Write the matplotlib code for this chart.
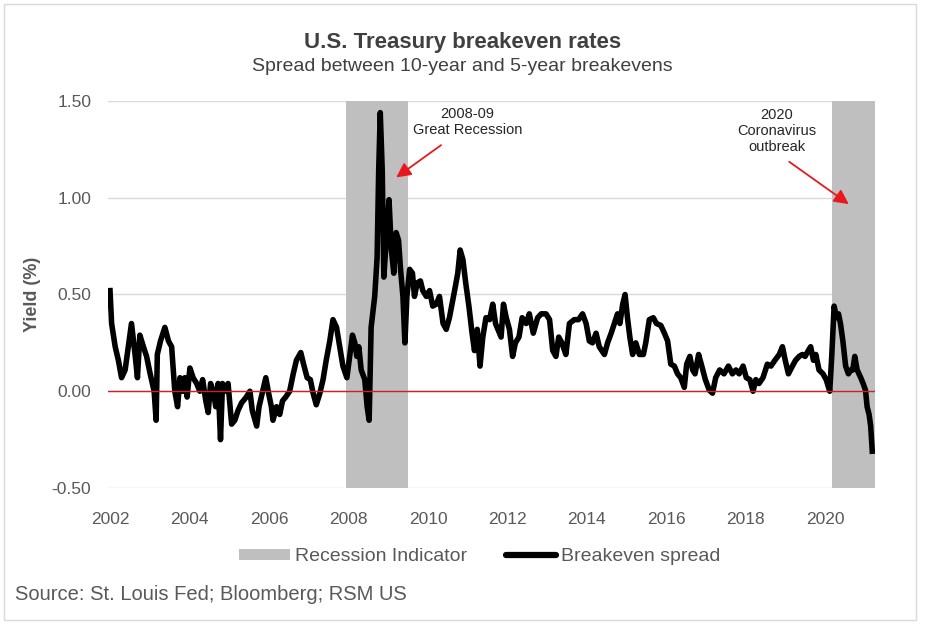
import matplotlib
matplotlib.use('Agg')
import matplotlib.pyplot as plt
from matplotlib.patches import Rectangle, Patch
from matplotlib.lines import Line2D

# Breakeven spread (10y minus 5y), decimal years
dates = [
    2002.00, 2002.04, 2002.13, 2002.21, 2002.29, 2002.38, 2002.46, 2002.54, 2002.63, 2002.69,
    2002.75, 2002.84, 2002.92, 2003.01, 2003.11, 2003.16, 2003.19, 2003.27, 2003.38, 2003.47,
    2003.55, 2003.63, 2003.70, 2003.76, 2003.83, 2003.88, 2003.94, 2004.01, 2004.09, 2004.18,
    2004.26, 2004.33, 2004.41, 2004.47, 2004.53, 2004.60, 2004.66, 2004.72, 2004.78, 2004.83,
    2004.89, 2004.97, 2005.06, 2005.14, 2005.22, 2005.31, 2005.43, 2005.52, 2005.58, 2005.69,
    2005.75, 2005.84, 2005.92, 2005.99, 2006.06, 2006.10, 2006.19, 2006.27, 2006.34, 2006.42,
    2006.52, 2006.61, 2006.69, 2006.80, 2006.87, 2006.96, 2007.04, 2007.11, 2007.19, 2007.28,
    2007.36, 2007.44, 2007.53, 2007.61, 2007.70, 2007.78, 2007.86, 2007.96, 2008.03, 2008.10,
    2008.16, 2008.21, 2008.26, 2008.32, 2008.41, 2008.47, 2008.52, 2008.57, 2008.66, 2008.72,
    2008.76, 2008.80, 2008.85, 2008.89, 2008.95, 2009.02, 2009.08, 2009.14, 2009.20, 2009.26,
    2009.31, 2009.37, 2009.42, 2009.47, 2009.54, 2009.61, 2009.66, 2009.73, 2009.81, 2009.87,
    2009.96, 2010.04, 2010.12, 2010.21, 2010.29, 2010.38, 2010.46, 2010.54, 2010.67, 2010.75,
    2010.81, 2010.88, 2010.95, 2011.03, 2011.11, 2011.17, 2011.24, 2011.31, 2011.38, 2011.46,
    2011.55, 2011.63, 2011.70, 2011.76, 2011.84, 2011.90, 2011.97, 2012.05, 2012.13, 2012.20,
    2012.29, 2012.37, 2012.47, 2012.55, 2012.65, 2012.76, 2012.85, 2012.97, 2013.06, 2013.14,
    2013.22, 2013.29, 2013.37, 2013.47, 2013.56, 2013.68, 2013.79, 2013.89, 2013.98, 2014.06,
    2014.14, 2014.23, 2014.31, 2014.44, 2014.52, 2014.61, 2014.69, 2014.77, 2014.83, 2014.90,
    2014.96, 2015.02, 2015.08, 2015.15, 2015.23, 2015.32, 2015.42, 2015.48, 2015.57, 2015.67,
    2015.75, 2015.86, 2015.95, 2016.03, 2016.11, 2016.20, 2016.28, 2016.36, 2016.45, 2016.51,
    2016.59, 2016.66, 2016.72, 2016.81, 2016.89, 2016.98, 2017.08, 2017.16, 2017.24, 2017.34,
    2017.45, 2017.56, 2017.66, 2017.75, 2017.83, 2017.93, 2018.01, 2018.10, 2018.18, 2018.25,
    2018.33, 2018.43, 2018.54, 2018.63, 2018.73, 2018.84, 2018.92, 2018.99, 2019.07, 2019.17,
    2019.25, 2019.34, 2019.42, 2019.49, 2019.57, 2019.63, 2019.70, 2019.76, 2019.84, 2019.94,
    2020.02, 2020.11, 2020.16, 2020.22, 2020.28, 2020.33, 2020.38, 2020.44, 2020.51, 2020.58,
    2020.64, 2020.69, 2020.74, 2020.80, 2020.89, 2020.95, 2021.01, 2021.05, 2021.10, 2021.14,
    2021.18,
]
spread = [
    0.52, 0.35, 0.23, 0.16, 0.07, 0.11, 0.23, 0.35, 0.19, 0.07,
    0.29, 0.23, 0.18, 0.09, 0.00, -0.15, 0.19, 0.26, 0.33, 0.26,
    0.23, 0.00, -0.08, 0.07, 0.00, 0.07, -0.03, 0.12, 0.07, 0.04,
    0.00, 0.06, -0.05, -0.11, 0.04, 0.00, -0.08, 0.04, -0.25, 0.04,
    0.00, 0.04, -0.17, -0.15, -0.10, -0.06, -0.03, 0.00, -0.10, -0.18,
    -0.08, 0.00, 0.07, -0.01, -0.08, -0.15, -0.08, -0.12, -0.05, -0.03,
    0.00, 0.09, 0.16, 0.20, 0.14, 0.07, 0.06, -0.01, -0.07, -0.01,
    0.06, 0.16, 0.26, 0.37, 0.33, 0.23, 0.13, 0.07, 0.18, 0.29,
    0.25, 0.18, 0.23, 0.11, 0.06, -0.08, -0.15, 0.33, 0.49, 0.69,
    1.14, 1.44, 1.14, 0.59, 0.78, 0.99, 0.73, 0.61, 0.82, 0.78,
    0.63, 0.49, 0.25, 0.49, 0.63, 0.61, 0.49, 0.56, 0.57, 0.52,
    0.49, 0.52, 0.44, 0.45, 0.49, 0.35, 0.32, 0.38, 0.52, 0.61,
    0.73, 0.68, 0.56, 0.44, 0.30, 0.21, 0.32, 0.13, 0.28, 0.38,
    0.37, 0.45, 0.35, 0.32, 0.28, 0.45, 0.38, 0.32, 0.18, 0.25,
    0.28, 0.38, 0.35, 0.40, 0.30, 0.38, 0.40, 0.40, 0.37, 0.21,
    0.18, 0.28, 0.25, 0.19, 0.35, 0.37, 0.37, 0.40, 0.35, 0.26,
    0.25, 0.30, 0.23, 0.19, 0.25, 0.30, 0.35, 0.40, 0.35, 0.45,
    0.50, 0.38, 0.28, 0.19, 0.25, 0.19, 0.19, 0.25, 0.37, 0.38,
    0.35, 0.34, 0.30, 0.26, 0.14, 0.13, 0.09, 0.07, 0.02, 0.14,
    0.18, 0.11, 0.09, 0.19, 0.13, 0.06, 0.005, -0.01, 0.07, 0.11,
    0.09, 0.13, 0.09, 0.11, 0.09, 0.13, 0.07, 0.06, 0.00, 0.06,
    0.04, 0.07, 0.14, 0.13, 0.16, 0.19, 0.23, 0.16, 0.09, 0.13,
    0.16, 0.18, 0.19, 0.18, 0.21, 0.23, 0.16, 0.19, 0.11, 0.09,
    0.06, 0.00, 0.18, 0.44, 0.38, 0.40, 0.35, 0.26, 0.13, 0.09,
    0.11, 0.11, 0.18, 0.11, 0.07, 0.04, 0.005, -0.08, -0.12, -0.18,
    -0.31,
]

recession_start = [2007.95, 2020.17]
recession_end = [2009.49, 2021.25]

x_ticks = [2002, 2004, 2006, 2008, 2010, 2012, 2014, 2016, 2018, 2020]
y_ticks = [-0.5, 0.0, 0.5, 1.0, 1.5]
y_tick_labels = ['-0.50', '0.00', '0.50', '1.00', '1.50']

FONT = 'Liberation Sans'
GRAY_TEXT = '#595959'
ARROW_RED = '#E8191E'


def plot_data():
    fig = plt.figure(figsize=(9.25, 6.29), dpi=100)
    ax = fig.add_axes([0.1168, 0.2242, 0.8292, 0.6152])

    for start, end in zip(recession_start, recession_end):
        ax.axvspan(start, end, color='#BFBFBF', lw=0, zorder=1)

    ax.plot(dates, spread, color='black', lw=4.0, solid_joinstyle='round', zorder=3)
    ax.axhline(0, color='#D02020', lw=1.0, zorder=4)

    ax.set_xlim(2001.95, 2021.25)
    ax.set_ylim(-0.5, 1.5)
    ax.set_xticks(x_ticks)
    ax.set_xticklabels([str(t) for t in x_ticks], fontsize=12.5, color=GRAY_TEXT, family=FONT)
    ax.set_yticks(y_ticks)
    ax.set_yticklabels(y_tick_labels, fontsize=12.5, color=GRAY_TEXT, family=FONT)
    ax.tick_params(axis='both', length=0)
    ax.tick_params(axis='y', pad=12)
    ax.tick_params(axis='x', pad=17)
    ax.grid(axis='y', color='#D9D9D9', lw=1.0, zorder=0)
    ax.set_axisbelow(True)
    for s in ax.spines.values():
        s.set_visible(False)

    ax.set_ylabel('Yield (%)', fontsize=13, fontweight='bold', color=GRAY_TEXT,
                  family=FONT, labelpad=8)

    # annotation texts
    ax.text(2011.0, 1.39, '2008-09\nGreat Recession', ha='center', va='center',
            fontsize=10.5, color='#262626', family=FONT)
    ax.text(2018.78, 1.345, '2020\nCoronavirus\noutbreak', ha='center', va='center',
            fontsize=10.5, color='#262626', family=FONT)

    # arrows
    arrow = dict(arrowstyle='-|>', color=ARROW_RED, lw=1.3, mutation_scale=22,
                 shrinkA=0, shrinkB=0)
    ax.annotate('', xy=(2009.20, 1.105), xytext=(2010.33, 1.272), arrowprops=arrow)
    ax.annotate('', xy=(2020.59, 0.967), xytext=(2019.09, 1.186), arrowprops=arrow)

    # titles
    fig.text(0.5, 0.933, 'U.S. Treasury breakeven rates', ha='center', va='center',
             fontsize=16, fontweight='bold', color='#404040', family=FONT)
    fig.text(0.5, 0.895, 'Spread between 10-year and 5-year breakevens', ha='center',
             va='center', fontsize=14, color='#404040', family=FONT)

    # legend
    handles = [Patch(facecolor='#BFBFBF', edgecolor='none'),
               Line2D([0], [0], color='black', lw=4.5, solid_capstyle='round')]
    fig.legend(handles, ['Recession Indicator', 'Breakeven spread'], loc='center',
               bbox_to_anchor=(0.519, 0.1145), ncol=2, frameon=False,
               prop={'family': FONT, 'size': 14}, labelcolor=GRAY_TEXT,
               handlelength=2.6, handleheight=0.55, handletextpad=0.25, columnspacing=2.0)

    fig.text(15 / 925, 1 - 594 / 629, 'Source: St. Louis Fed; Bloomberg; RSM US',
             ha='left', va='center', fontsize=14.5, color=GRAY_TEXT, family=FONT)

    # outer frame
    fig.patches.append(Rectangle((4 / 925, 1 - 620 / 629), 912 / 925, 616 / 629,
                                 transform=fig.transFigure, fill=False,
                                 edgecolor='#D9D9D9', lw=1.0))

    fig.savefig('out.png', dpi=100)


def main():
    plot_data()


if __name__ == '__main__':
    main()
